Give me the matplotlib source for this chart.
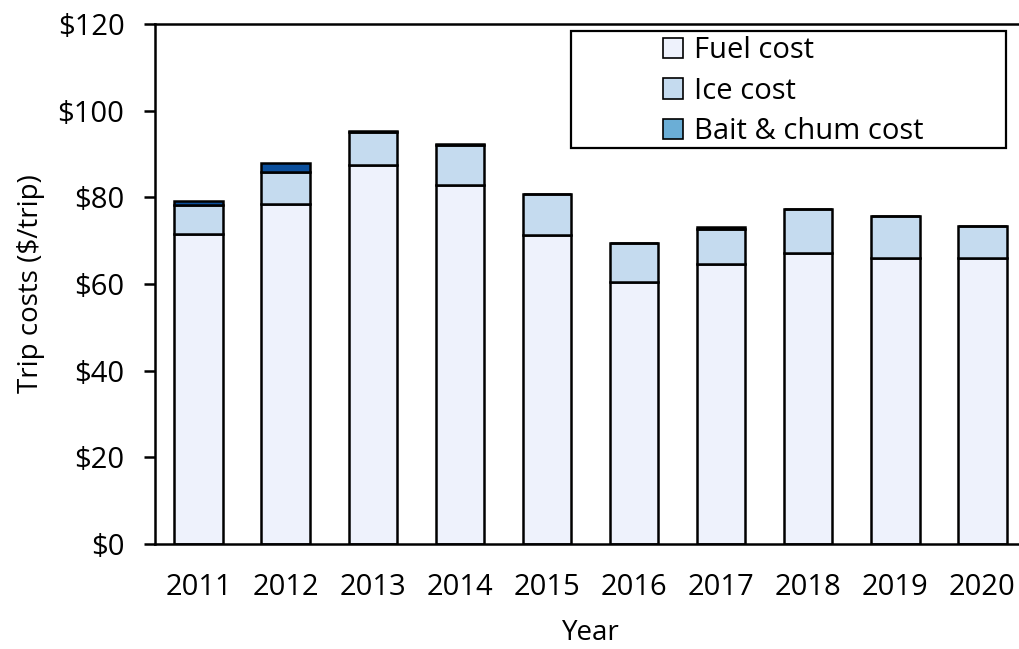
import matplotlib
matplotlib.use("Agg")
import matplotlib.pyplot as plt
from matplotlib.patches import Patch, Rectangle
from matplotlib.ticker import FuncFormatter, MultipleLocator
import numpy as np

years = ["2011", "2012", "2013", "2014", "2015", "2016", "2017", "2018", "2019", "2020"]
fuel = [71.6, 78.5, 87.5, 82.8, 71.2, 60.4, 64.6, 67.1, 66.1, 66.1]
ice = [6.6, 7.3, 7.5, 9.3, 9.6, 9.0, 8.1, 10.1, 9.6, 7.4]
bait = [1.0, 2.2, 0.3, 0.2, 0.0, 0.0, 0.4, 0.0, 0.0, 0.0]
labels = ["Fuel cost", "Ice cost", "Bait & chum cost"]

plt.rcParams['font.family'] = ['Open Sans', 'DejaVu Sans']

c_fuel = "#EEF2FC"
c_ice = "#C5DBEF"
c_bait_bar = "#0B4F9C"
c_bait_leg = "#6BAED6"

fig = plt.figure(figsize=(10.2, 6.49), dpi=100)
ax = fig.add_axes([155/1020, (649-544)/649, (1026-155)/1020, (544-24)/649])

x = np.arange(len(years))
w = 0.555
lw = 1.8
fuel_a = np.array(fuel)
ice_a = np.array(ice)
bait_a = np.array(bait)
ax.bar(x, fuel_a, w, color=c_fuel, edgecolor="black", linewidth=lw, zorder=2)
ax.bar(x, ice_a, w, bottom=fuel_a, color=c_ice, edgecolor="black", linewidth=lw, zorder=2)
ax.bar(x, bait_a, w, bottom=fuel_a + ice_a, color=c_bait_bar, edgecolor="black", linewidth=lw, zorder=2)

ax.set_xlim(-0.5, 9.5)
ax.set_ylim(0, 120)
ax.yaxis.set_major_locator(MultipleLocator(20))
ax.yaxis.set_major_formatter(FuncFormatter(lambda v, p: f"${v:.0f}"))
ax.set_xticks(x)
ax.set_xticklabels(years)

for s in ["left", "bottom", "top"]:
    ax.spines[s].set_linewidth(1.8)
ax.spines["right"].set_visible(False)

ax.tick_params(axis="y", length=8, width=1.8, pad=14, labelsize=21, direction="out")
ax.tick_params(axis="x", length=0, pad=21, labelsize=21)

ax.set_ylabel("Trip costs ($/trip)", fontsize=20, labelpad=9)
ax.set_xlabel("Year", fontsize=20, labelpad=12)

handles = [Patch(facecolor=c_fuel, edgecolor="black", linewidth=1.2),
           Patch(facecolor=c_ice, edgecolor="black", linewidth=1.2),
           Patch(facecolor=c_bait_leg, edgecolor="black", linewidth=1.2)]
leg = fig.legend(handles, labels, loc="upper left",
                 bbox_to_anchor=(663/1020, 1 - 36/649), frameon=False,
                 fontsize=21, handlelength=0.7, handleheight=0.7,
                 handletextpad=0.35, labelspacing=0.4, borderaxespad=0,
                 borderpad=0)
fig.add_artist(Rectangle((571/1020, 1 - 148/649), (1006-571)/1020, (148-31)/649,
                         transform=fig.transFigure, fill=True, facecolor="white",
                         edgecolor="black", linewidth=1.6, zorder=1))
leg.set_zorder(5)

fig.savefig("out.png", dpi=100)
